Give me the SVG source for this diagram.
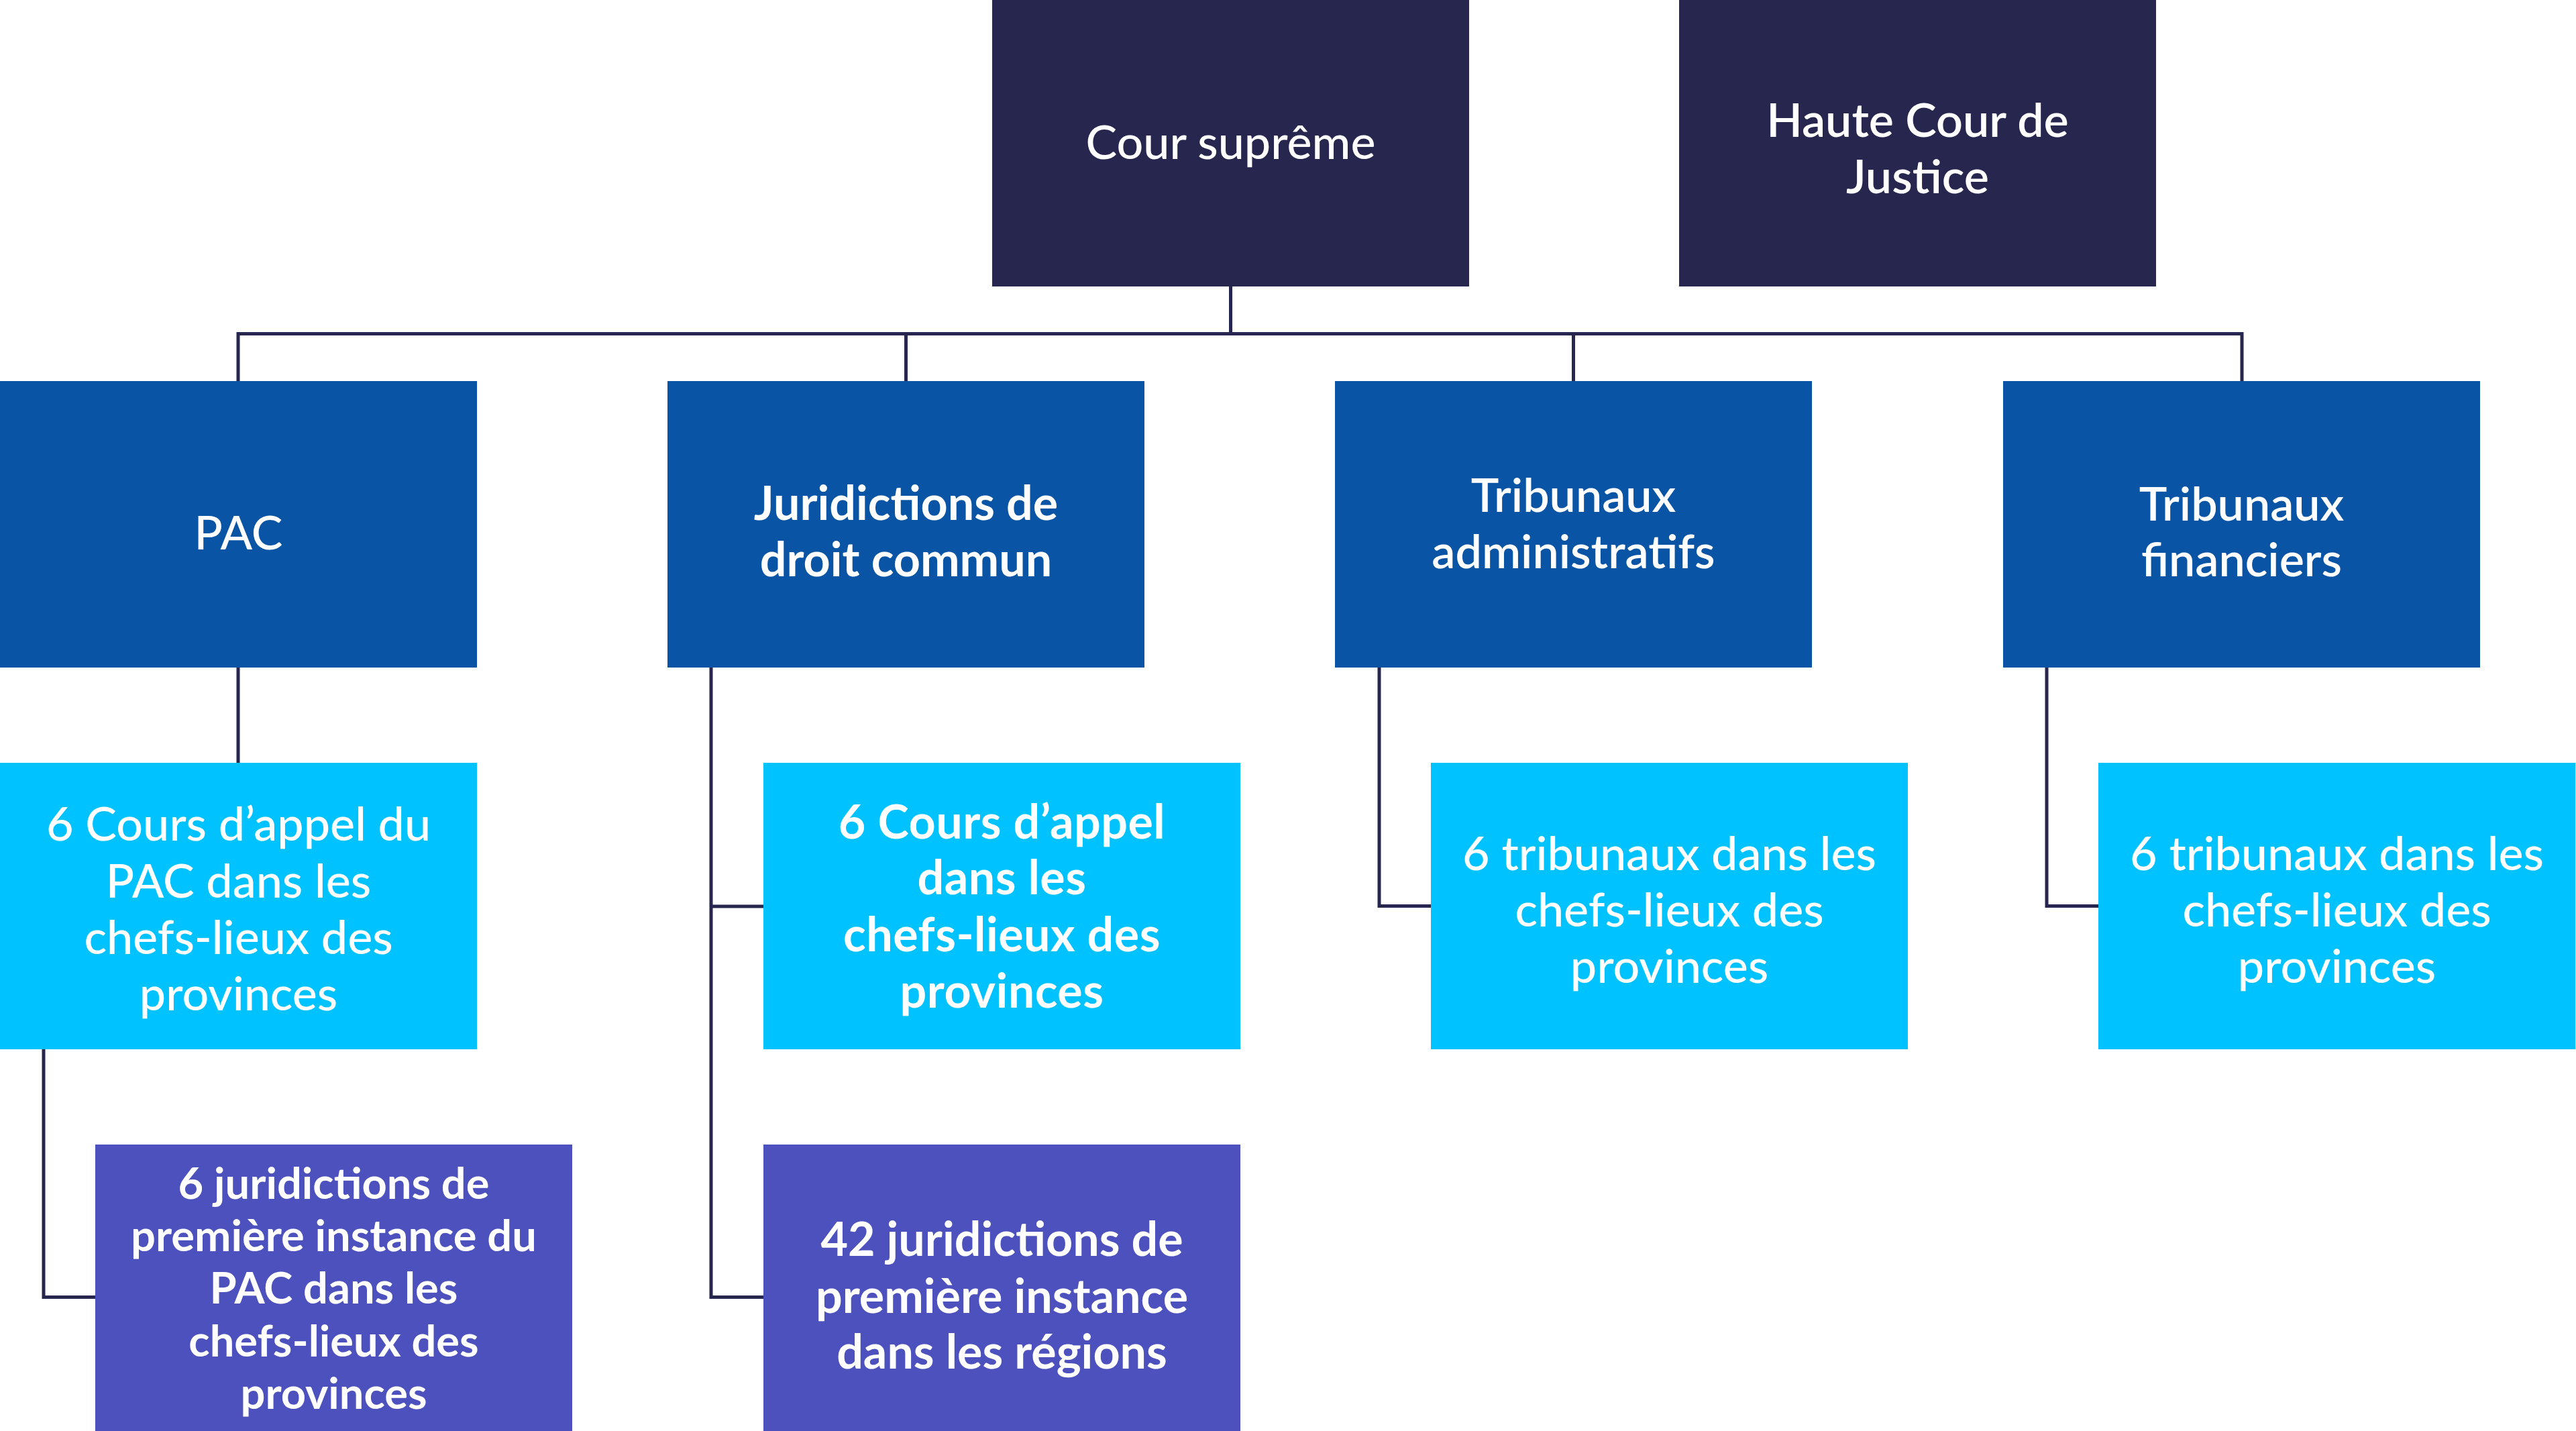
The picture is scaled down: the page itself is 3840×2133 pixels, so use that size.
<svg xmlns="http://www.w3.org/2000/svg" width="3840" height="2133" viewBox="0 0 3840 2133">
<style>
.navy{fill:#26264e}
.blue{fill:#0a54a5}
.cyan{fill:#00c2ff}
.purple{fill:#4d51bd}
text{font-family:Lato,"Open Sans","Liberation Sans",sans-serif;fill:#ffffff;font-size:70px;text-anchor:middle}
text.small{font-size:65px}
.w4{font-weight:400}
.w5{font-weight:500}
.w6{font-weight:600}
.w7{font-weight:700}
.conn{fill:none;stroke:#26264e;stroke-width:5}
</style>
<rect width="3840" height="2133" fill="#ffffff"/>
<g id="connectors">
<path class="conn" d="M1834.5 426V497.5M355 570V497.5H3342V570M1350.5 497.5V570M2345.5 497.5V570"/>
<path class="conn" d="M355 995V1138"/>
<path class="conn" d="M65 1564V1933.5H143"/>
<path class="conn" d="M1060 995V1933.5H1139M1060 1351H1139"/>
<path class="conn" d="M2056 995V1350.5H2134"/>
<path class="conn" d="M3051 995V1350.5H3129"/>
</g>
<g id="cour-supreme">
<rect class="navy" x="1479" y="0" width="711" height="427"/>
<text class="w5" x="1834.5" y="237">Cour suprême</text>
</g>
<g id="haute-cour">
<rect class="navy" x="2503" y="0" width="711" height="427"/>
<text class="w6" x="2858.5" y="204">Haute Cour de</text>
<text class="w6" x="2858.5" y="288">Justice</text>
</g>
<g id="pac">
<rect class="blue" x="0" y="568" width="711" height="427"/>
<text class="w5" x="355.5" y="819">PAC</text>
</g>
<g id="juridictions-droit-commun">
<rect class="blue" x="995" y="568" width="711" height="427"/>
<text class="w7" x="1350.5" y="775">Juridictions de</text>
<text class="w7" x="1350.5" y="859">droit commun</text>
</g>
<g id="tribunaux-administratifs">
<rect class="blue" x="1990" y="568" width="711" height="427"/>
<text class="w6" x="2345.5" y="763">Tribunaux</text>
<text class="w6" x="2345.5" y="847">administratifs</text>
</g>
<g id="tribunaux-financiers">
<rect class="blue" x="2986" y="568" width="711" height="427"/>
<text class="w6" x="3341.5" y="776">Tribunaux</text>
<text class="w6" x="3341.5" y="859">financiers</text>
</g>
<g id="cours-appel-pac">
<rect class="cyan" x="0" y="1137" width="711" height="427"/>
<text class="w5" x="355.5" y="1253">6 Cours d’appel du</text>
<text class="w5" x="355.5" y="1338">PAC dans les</text>
<text class="w5" x="355.5" y="1422">chefs-lieux des</text>
<text class="w5" x="355.5" y="1506">provinces</text>
</g>
<g id="cours-appel">
<rect class="cyan" x="1138" y="1137" width="711" height="427"/>
<text class="w7" x="1493.5" y="1250" letter-spacing="0.5">6 Cours d’appel</text>
<text class="w7" x="1493.5" y="1333" letter-spacing="0.5">dans les</text>
<text class="w7" x="1493.5" y="1418" letter-spacing="0.5">chefs-lieux des</text>
<text class="w7" x="1493.5" y="1502" letter-spacing="0.5">provinces</text>
</g>
<g id="tribunaux-admin-provinces">
<rect class="cyan" x="2133" y="1137" width="711" height="427"/>
<text class="w5" x="2488.5" y="1297">6 tribunaux dans les</text>
<text class="w5" x="2488.5" y="1381">chefs-lieux des</text>
<text class="w5" x="2488.5" y="1465">provinces</text>
</g>
<g id="tribunaux-fin-provinces">
<rect class="cyan" x="3128" y="1137" width="711" height="427"/>
<text class="w5" x="3483.5" y="1297">6 tribunaux dans les</text>
<text class="w5" x="3483.5" y="1381">chefs-lieux des</text>
<text class="w5" x="3483.5" y="1465">provinces</text>
</g>
<g id="juridictions-pac">
<rect class="purple" x="142" y="1706" width="711" height="427"/>
<text class="w7 small" x="497.5" y="1787">6 juridictions de</text>
<text class="w7 small" x="497.5" y="1865">première instance du</text>
<text class="w7 small" x="497.5" y="1943">PAC dans les</text>
<text class="w7 small" x="497.5" y="2022">chefs-lieux des</text>
<text class="w7 small" x="497.5" y="2100">provinces</text>
</g>
<g id="juridictions-regions">
<rect class="purple" x="1138" y="1706" width="711" height="427"/>
<text class="w7" x="1493.5" y="1872">42 juridictions de</text>
<text class="w7" x="1493.5" y="1957">première instance</text>
<text class="w7" x="1493.5" y="2040">dans les régions</text>
</g>
</svg>
